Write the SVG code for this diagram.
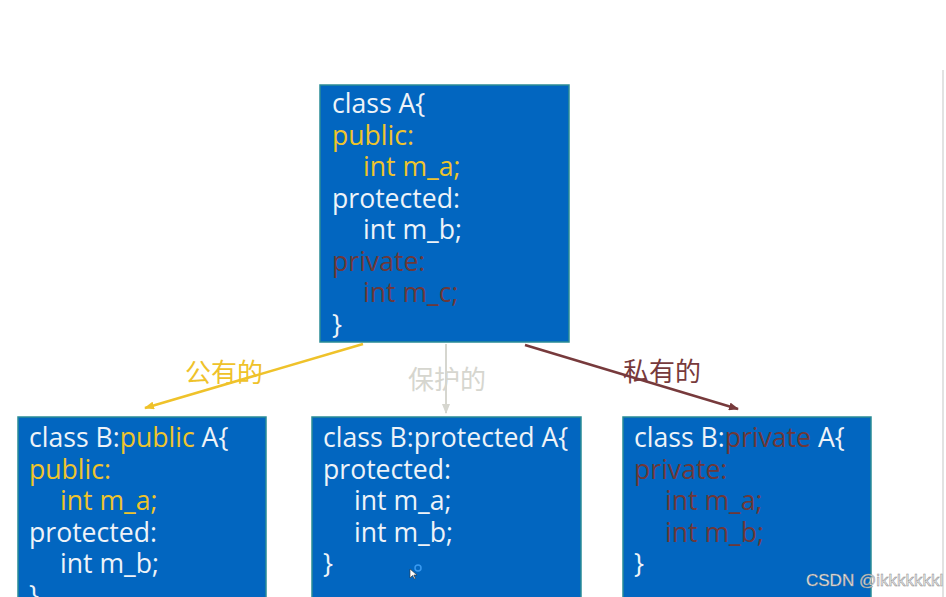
<svg xmlns="http://www.w3.org/2000/svg" width="946" height="597" viewBox="0 0 946 597">
<defs>
<style>
.box{fill:#0266c0;stroke:#2a8c96;stroke-width:1.5}
.code{font-family:"Open Sans","Liberation Sans",sans-serif;font-size:26.6px}
.w{fill:#eef3f8}
.y{fill:#efc42c}
.r{fill:#6e3838}
.lbl{font-family:"Noto Sans CJK SC","Noto Sans",sans-serif;font-size:26px}
</style>
<marker id="ay" markerWidth="10" markerHeight="8" refX="9" refY="4" orient="auto" markerUnits="userSpaceOnUse"><path d="M0,0 L10,4 L0,8 Z" fill="#efc22a"/></marker>
<marker id="ag" markerWidth="10" markerHeight="8" refX="9" refY="4" orient="auto" markerUnits="userSpaceOnUse"><path d="M0,0 L10,4 L0,8 Z" fill="#d6d6cf"/></marker>
<marker id="ar" markerWidth="10" markerHeight="8" refX="9" refY="4" orient="auto" markerUnits="userSpaceOnUse"><path d="M0,0 L10,4 L0,8 Z" fill="#773a3c"/></marker>
</defs>
<rect width="946" height="597" fill="#ffffff"/>
<line x1="943" y1="70" x2="943" y2="597" stroke="#e2e2e2" stroke-width="2"/>

<g id="connectors">
<line x1="363" y1="344" x2="145" y2="408" stroke="#efc22a" stroke-width="2.5" marker-end="url(#ay)"/>
<line x1="446" y1="344" x2="446" y2="413" stroke="#d6d6cf" stroke-width="2" marker-end="url(#ag)"/>
<line x1="525" y1="345" x2="738" y2="409" stroke="#773a3c" stroke-width="2.5" marker-end="url(#ar)"/>
<text class="lbl" x="224" y="382" text-anchor="middle" fill="#efc22a">公有的</text>
<text class="lbl" x="447" y="389" text-anchor="middle" fill="#d6d6cf">保护的</text>
<text class="lbl" x="662" y="381" text-anchor="middle" fill="#773a3c">私有的</text>
</g>

<g id="classA">
<rect class="box" x="320" y="85" width="249" height="257"/>
<text class="code w" x="332" y="113">class A{</text>
<text class="code y" x="332" y="144.5">public:</text>
<text class="code y" x="363" y="176">int m_a;</text>
<text class="code w" x="332" y="207.5">protected:</text>
<text class="code w" x="363" y="239">int m_b;</text>
<text class="code r" x="332" y="270.5">private:</text>
<text class="code r" x="363" y="302">int m_c;</text>
<text class="code w" x="332" y="333.5">}</text>
</g>

<g id="classBpublic">
<rect class="box" x="18" y="417" width="248" height="190"/>
<text class="code" x="29" y="447"><tspan class="w">class B:</tspan><tspan class="y">public</tspan><tspan class="w"> A{</tspan></text>
<text class="code y" x="29" y="478.5">public:</text>
<text class="code y" x="60" y="510">int m_a;</text>
<text class="code w" x="29" y="541.5">protected:</text>
<text class="code w" x="60" y="573">int m_b;</text>
<text class="code w" x="29" y="604.5">}</text>
</g>

<g id="classBprotected">
<rect class="box" x="312" y="417" width="269" height="190"/>
<text class="code w" x="323" y="447">class B:protected A{</text>
<text class="code w" x="323" y="478.5">protected:</text>
<text class="code w" x="354" y="510">int m_a;</text>
<text class="code w" x="354" y="541.5">int m_b;</text>
<text class="code w" x="323" y="573">}</text>
<circle cx="418" cy="568" r="3" fill="none" stroke="#3a9af0" stroke-width="1.5"/>
<path d="M410,569 L410,578 L412.5,575.5 L414.5,579 L415.5,578.5 L413.8,575 L417,575 Z" fill="#ffffff" stroke="#333" stroke-width="0.6"/>
</g>

<g id="classBprivate">
<rect class="box" x="623" y="417" width="248" height="190"/>
<text class="code" x="634" y="447"><tspan class="w">class B:</tspan><tspan class="r">private</tspan><tspan class="w"> A{</tspan></text>
<text class="code r" x="634" y="478.5">private:</text>
<text class="code r" x="665" y="510">int m_a;</text>
<text class="code r" x="665" y="541.5">int m_b;</text>
<text class="code w" x="634" y="573">}</text>
</g>

<text x="806" y="586" font-family="Liberation Sans,Arial,sans-serif" font-size="17" fill="#f2f2f2" stroke="#8a8a8a" stroke-width="0.5">CSDN @ikkkkkkkl</text>
</svg>
